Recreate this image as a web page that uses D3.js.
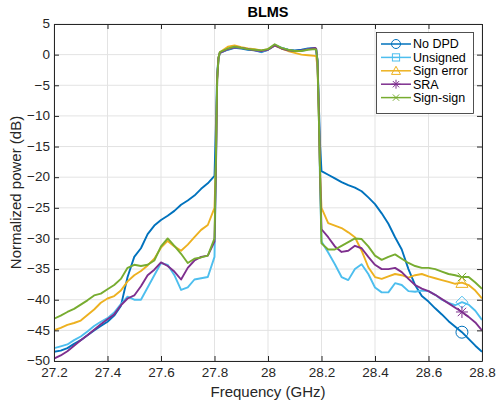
<!DOCTYPE html>
<html><head><meta charset="utf-8">
<script src="https://cdn.jsdelivr.net/npm/d3@7"></script>
<style>body{margin:0;background:#fff}svg{font-family:"Liberation Sans",Arial,Helvetica,sans-serif}</style>
</head><body><svg id="c" width="497" height="406"></svg>
<script>
const freqs = [27.2,27.225,27.25,27.275,27.3,27.325,27.35,27.375,27.4,27.425,27.45,27.475,27.5,27.525,27.55,27.575,27.6,27.625,27.65,27.675,27.7,27.725,27.75,27.775,27.8,
  27.805,27.81,27.815,
  27.82,27.85,27.875,27.9,27.925,27.95,27.975,28.0,28.025,28.05,28.075,28.1,28.125,28.15,28.175,28.18,
  28.185,28.19,28.195,
  28.2,28.225,28.25,28.275,28.3,28.325,28.35,28.375,28.4,28.425,28.45,28.475,28.5,28.525,28.55,28.575,28.6,28.625,28.65,28.675,28.7,28.725,28.75,28.775,28.8];

const noDPD = [-48.5,-48.3,-47.9,-47.2,-46.6,-45.8,-45.0,-44.3,-43.6,-42.6,-41.0,-36.3,-33.0,-31.6,-29.3,-27.9,-27.0,-26.3,-25.5,-24.5,-23.8,-23.0,-21.9,-21.0,-19.8,
  -12,-3,-0.5,
  0.3,0.8,1.1,1.0,0.8,0.7,0.4,0.8,1.5,1.1,0.8,0.7,0.8,1.0,1.1,0.9,
  -1,-8,-15,
  -19.0,-19.6,-20.2,-20.8,-21.3,-21.7,-22.3,-23.3,-24.4,-25.9,-27.6,-29.8,-31.8,-35.0,-37.6,-39.4,-40.3,-41.4,-42.4,-43.5,-44.4,-45.3,-46.4,-47.5,-48.5];

const unsigned = [-47.9,-47.6,-47.3,-46.6,-46.0,-45.2,-44.3,-43.6,-43.0,-42.1,-40.7,-39.5,-40.0,-40.0,-38.0,-36.0,-34.0,-34.3,-36.0,-38.4,-38.0,-36.7,-36.5,-36.3,-33.0,
  -20,-4,-0.7,
  0.3,0.9,1.2,1.1,0.9,0.8,0.5,0.8,1.6,1.1,0.8,0.6,0.6,0.9,1.0,0.8,
  -1,-10,-22,
  -30.5,-32.3,-34.2,-36.3,-36.8,-35.0,-34.2,-35.8,-38.0,-38.8,-38.8,-37.3,-37.6,-38.6,-38.7,-38.5,-38.6,-39.2,-40.0,-40.5,-40.9,-40.4,-40.8,-41.8,-43.3];

const signError = [-45.0,-44.6,-44.1,-43.8,-43.4,-42.5,-41.6,-40.5,-39.8,-39.4,-38.5,-37.0,-36.0,-35.3,-34.4,-33.3,-31.5,-30.4,-31.3,-32.0,-31.0,-29.8,-28.6,-27.8,-25.0,
  -18,-4,-0.5,
  0.4,1.3,1.5,1.2,1.0,0.9,0.7,0.9,1.5,1.0,0.6,0.3,0.0,-0.1,-0.2,-0.3,
  -2,-10,-20,
  -25.0,-27.5,-27.9,-28.3,-29.0,-29.8,-32.0,-34.7,-36.3,-36.6,-36.2,-35.8,-36.0,-36.4,-36.0,-35.8,-36.2,-36.5,-36.8,-37.1,-37.4,-37.2,-37.6,-38.5,-39.8];

const sra = [-49.6,-49.1,-48.4,-47.5,-46.6,-45.8,-44.9,-44.0,-43.2,-42.4,-40.9,-39.8,-39.3,-37.8,-36.0,-35.1,-33.9,-34.5,-35.4,-36.7,-34.8,-33.6,-33.0,-32.8,-30.5,
  -20,-4,-0.5,
  0.3,0.9,1.2,1.1,0.9,0.7,0.6,0.8,1.5,1.0,0.7,0.6,0.7,0.9,1.1,1.0,
  -1,-9,-20,
  -28.5,-29.8,-31.3,-32.2,-32.0,-31.2,-31.6,-33.0,-34.3,-35.0,-35.0,-34.8,-35.5,-36.6,-37.6,-38.2,-38.6,-39.2,-39.9,-40.6,-41.3,-42.0,-42.8,-43.7,-45.0];

const signSign = [-43.1,-42.6,-42.0,-41.5,-40.8,-40.1,-39.3,-39.0,-38.3,-37.6,-36.6,-34.8,-34.3,-34.5,-34.3,-33.6,-31.3,-30.0,-31.2,-32.5,-34.0,-33.3,-33.1,-32.8,-30.0,
  -18,-4,-0.5,
  0.4,1.0,1.3,1.1,0.9,0.8,0.7,0.9,1.7,1.1,0.8,0.6,0.6,0.8,0.9,0.8,
  -1,-10,-20,
  -30.8,-31.8,-31.8,-31.2,-30.6,-30.0,-30.1,-31.3,-32.8,-33.5,-33.0,-32.6,-33.3,-34.0,-34.5,-34.8,-34.8,-35.0,-35.4,-35.8,-36.0,-36.3,-36.3,-37.2,-38.2];

const seriesNames = ["No DPD","Unsigned","Sign error","SRA","Sign-sign"];
const seriesValues = [noDPD, unsigned, signError, sra, signSign];
const seriesColors = ["#0072BD","#4DBEEE","#EDB120","#7E2F8E","#77AC30"];
const seriesMarkers = ["circle","diamond","triangle","star","cross"];
const markerFreq = 28.725;
const xTickValues = [27.2,27.4,27.6,27.8,28.0,28.2,28.4,28.6,28.8];
const xTickLabels = ["27.2","27.4","27.6","27.8","28","28.2","28.4","28.6","28.8"];
const yTickValues = [-50,-45,-40,-35,-30,-25,-20,-15,-10,-5,0,5];
const title = "BLMS", xLabel = "Frequency (GHz)", yLabel = "Normalized power (dB)";

const svg = d3.select("#c");
const L=54,R=482,T=24,B=361;
const x = d3.scaleLinear().domain([27.2,28.8]).range([L,R]);
const y = d3.scaleLinear().domain([-50,5]).range([B,T]);
const axisColor = "#262626";

// grid
const g = svg.append("g");
g.selectAll(".gx").data(xTickValues).enter().append("line")
  .attr("x1",d=>x(d)).attr("x2",d=>x(d)).attr("y1",T).attr("y2",B)
  .attr("stroke","#e3e3e3").attr("stroke-width",1);
g.selectAll(".gy").data(yTickValues).enter().append("line")
  .attr("y1",d=>y(d)).attr("y2",d=>y(d)).attr("x1",L).attr("x2",R)
  .attr("stroke","#e3e3e3").attr("stroke-width",1);

svg.append("clipPath").attr("id","clip").append("rect").attr("x",L).attr("y",T).attr("width",R-L).attr("height",B-T);

const line = d3.line().x(d=>x(d[0])).y(d=>y(d[1]));
const plot = svg.append("g").attr("clip-path","url(#clip)");
seriesValues.forEach((vals,i)=>{
  plot.append("path").datum(freqs.map((f,k)=>[f,vals[k]]))
    .attr("d",line).attr("fill","none").attr("stroke",seriesColors[i])
    .attr("stroke-width",1.9).attr("stroke-linejoin","round");
});

function drawMarker(sel, type, cx, cy, s, color){
  const gm = sel.append("g").attr("transform",`translate(${cx},${cy})`)
    .attr("fill","none").attr("stroke",color).attr("stroke-width",1);
  if(type==="circle") gm.append("circle").attr("r",s);
  else if(type==="diamond") gm.append("path").attr("d",`M0,${-s}L${s},0L0,${s}L${-s},0Z`);
  else if(type==="square") gm.append("rect").attr("x",-s*0.8).attr("y",-s*0.8).attr("width",s*1.6).attr("height",s*1.6);
  else if(type==="triangle") gm.append("path").attr("d",`M0,${-s}L${s},${s*0.8}L${-s},${s*0.8}Z`);
  else if(type==="star") gm.append("path").attr("d",`M${-s},0H${s}M0,${-s}V${s}M${-s*0.7},${-s*0.7}L${s*0.7},${s*0.7}M${-s*0.7},${s*0.7}L${s*0.7},${-s*0.7}`);
  else if(type==="cross") gm.append("path").attr("d",`M${-s*0.7},${-s*0.7}L${s*0.7},${s*0.7}M${-s*0.7},${s*0.7}L${s*0.7},${-s*0.7}`);
}
const mi = freqs.indexOf(markerFreq);
seriesValues.forEach((vals,i)=>{
  drawMarker(svg, seriesMarkers[i], x(freqs[mi]), y(vals[mi]), 6, seriesColors[i]);
});

// axes
const fs = "13.5px";
const ax = svg.append("g").attr("transform",`translate(0,${B})`)
  .call(d3.axisBottom(x).tickValues(xTickValues).tickFormat((d,i)=>xTickLabels[i]).tickSizeInner(-5).tickSizeOuter(0).tickPadding(6));
const ay = svg.append("g").attr("transform",`translate(${L},0)`)
  .call(d3.axisLeft(y).tickValues(yTickValues).tickSizeInner(-5).tickSizeOuter(0).tickPadding(4));
const axt = svg.append("g").attr("transform",`translate(0,${T})`)
  .call(d3.axisTop(x).tickValues(xTickValues).tickFormat("").tickSizeInner(-5).tickSizeOuter(0));
const ayr = svg.append("g").attr("transform",`translate(${R},0)`)
  .call(d3.axisRight(y).tickValues(yTickValues).tickFormat("").tickSizeInner(-5).tickSizeOuter(0));
[ax,ay,axt,ayr].forEach(a=>{
  a.select(".domain").attr("stroke",axisColor).attr("stroke-width",1);
  a.selectAll(".tick line").attr("stroke",axisColor);
  a.selectAll("text").attr("fill",axisColor).style("font-size",fs).style("font-family","'Liberation Sans',Arial,sans-serif");
});
ay.selectAll("text").attr("dy","0.28em");

// labels
svg.append("text").attr("x",(L+R)/2).attr("y",17).attr("text-anchor","middle")
  .style("font-size","14.5px").style("font-weight","bold").attr("fill","#000").text(title);
svg.append("text").attr("x",(L+R)/2).attr("y",397).attr("text-anchor","middle")
  .style("font-size","15px").attr("fill",axisColor).text(xLabel);
svg.append("text").attr("transform",`translate(21,${(T+B)/2}) rotate(-90)`).attr("text-anchor","middle")
  .style("font-size","15px").attr("fill",axisColor).text(yLabel);

// legend
const lg = svg.append("g");
lg.append("rect").attr("x",376.5).attr("y",32.5).attr("width",97).attr("height",81)
  .attr("fill","#fff").attr("stroke",axisColor).attr("stroke-width",0.8);
seriesNames.forEach((n,i)=>{
  const yy = 44 + i*13.4;
  lg.append("line").attr("x1",381).attr("x2",411).attr("y1",yy).attr("y2",yy)
    .attr("stroke",seriesColors[i]).attr("stroke-width",1.5);
  drawMarker(lg, seriesMarkers[i]==="diamond"?"square":seriesMarkers[i], 396, yy, 4.5, seriesColors[i]);
  lg.append("text").attr("x",413).attr("y",yy).attr("dy","0.35em")
    .style("font-size","12.5px").attr("fill","#000").text(n);
});
</script></body></html>
